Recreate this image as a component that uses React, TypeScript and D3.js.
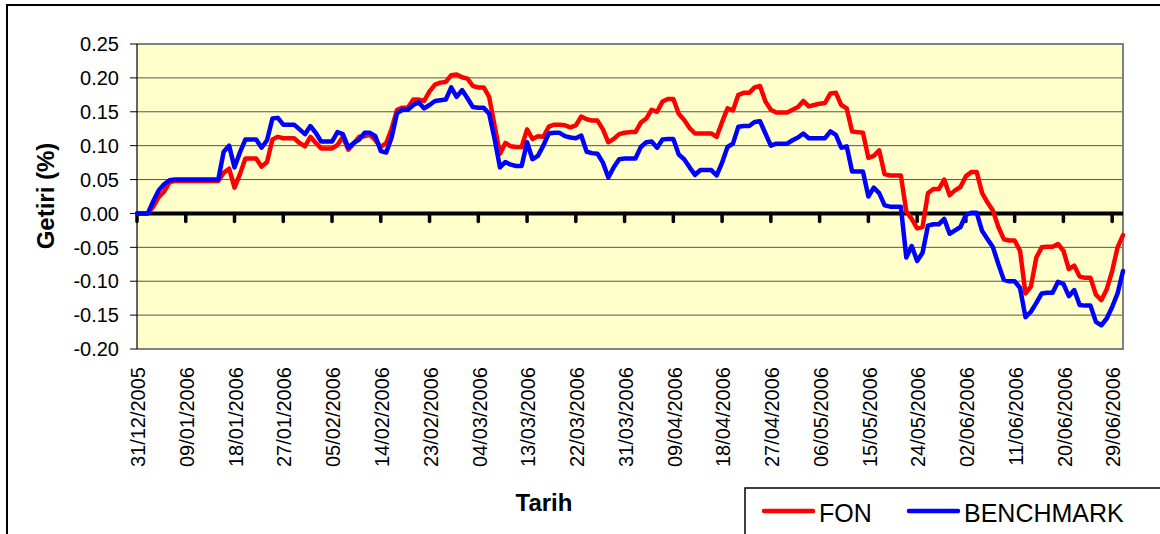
import React from "react";
import * as d3 from "d3";

// daily returns, 31/12/2005 .. 01/07/2006 (calendar days)
const startDay = new Date(2005, 11, 31);
const endDay = new Date(2006, 6, 2);

const fon = [
  0, 0, 0, 0.010, 0.024, 0.032, 0.046, 0.048, 0.048, 0.048,
  0.048, 0.048, 0.048, 0.048, 0.048, 0.048, 0.060, 0.066, 0.038, 0.058,
  0.081, 0.081, 0.081, 0.069, 0.076, 0.109, 0.113, 0.111, 0.111, 0.111,
  0.104, 0.099, 0.113, 0.104, 0.096, 0.096, 0.096, 0.101, 0.113, 0.094,
  0.103, 0.113, 0.114, 0.116, 0.108, 0.098, 0.104, 0.125, 0.153, 0.156,
  0.156, 0.168, 0.168, 0.166, 0.180, 0.190, 0.193, 0.194, 0.204, 0.205,
  0.201, 0.199, 0.188, 0.186, 0.186, 0.172, 0.130, 0.088, 0.104, 0.099,
  0.098, 0.098, 0.124, 0.110, 0.114, 0.113, 0.128, 0.131, 0.131, 0.130,
  0.127, 0.130, 0.143, 0.139, 0.137, 0.137, 0.124, 0.105, 0.110, 0.117,
  0.119, 0.120, 0.120, 0.134, 0.140, 0.153, 0.150, 0.165, 0.169, 0.169,
  0.147, 0.138, 0.126, 0.118, 0.118, 0.118, 0.118, 0.113, 0.135, 0.155,
  0.152, 0.175, 0.178, 0.178, 0.186, 0.188, 0.165, 0.153, 0.149, 0.149,
  0.149, 0.153, 0.157, 0.166, 0.158, 0.160, 0.162, 0.163, 0.177, 0.178,
  0.160, 0.155, 0.121, 0.120, 0.119, 0.082, 0.085, 0.093, 0.058, 0.056,
  0.056, 0.056, 0.003, -0.008, -0.022, -0.020, 0.030, 0.036, 0.036, 0.050,
  0.027, 0.034, 0.039, 0.055, 0.061, 0.061, 0.030, 0.016, 0.004, -0.020,
  -0.038, -0.040, -0.040, -0.055, -0.118, -0.108, -0.065, -0.050, -0.049, -0.049,
  -0.045, -0.055, -0.082, -0.077, -0.093, -0.095, -0.095, -0.120, -0.128, -0.112,
  -0.085, -0.050, -0.032
];

const benchmark = [
  0, 0, 0, 0.018, 0.034, 0.043, 0.049, 0.050, 0.050, 0.050,
  0.050, 0.050, 0.050, 0.050, 0.050, 0.050, 0.091, 0.100, 0.068, 0.090,
  0.109, 0.109, 0.109, 0.097, 0.108, 0.140, 0.141, 0.131, 0.131, 0.131,
  0.124, 0.117, 0.129, 0.119, 0.106, 0.106, 0.106, 0.120, 0.117, 0.097,
  0.104, 0.109, 0.119, 0.119, 0.114, 0.092, 0.090, 0.112, 0.148, 0.153,
  0.153, 0.160, 0.164, 0.155, 0.160, 0.166, 0.167, 0.168, 0.186, 0.172,
  0.182, 0.170, 0.157, 0.156, 0.156, 0.147, 0.110, 0.068, 0.076, 0.072,
  0.070, 0.070, 0.105, 0.080, 0.085, 0.100, 0.118, 0.119, 0.119, 0.114,
  0.112, 0.111, 0.115, 0.091, 0.089, 0.088, 0.075, 0.053, 0.068, 0.080,
  0.081, 0.081, 0.081, 0.098, 0.105, 0.106, 0.097, 0.109, 0.110, 0.110,
  0.087, 0.080, 0.068, 0.057, 0.064, 0.064, 0.064, 0.056, 0.075, 0.098,
  0.103, 0.128, 0.129, 0.129, 0.135, 0.136, 0.118, 0.100, 0.103, 0.103,
  0.103, 0.108, 0.112, 0.118, 0.111, 0.111, 0.111, 0.111, 0.121, 0.116,
  0.097, 0.099, 0.062, 0.062, 0.062, 0.025, 0.038, 0.030, 0.012, 0.010,
  0.010, 0.010, -0.065, -0.048, -0.070, -0.058, -0.018, -0.016, -0.016, -0.008,
  -0.030, -0.025, -0.020, -0.002, 0.001, 0.001, -0.026, -0.038, -0.050, -0.075,
  -0.098, -0.100, -0.100, -0.110, -0.153, -0.145, -0.132, -0.118, -0.117, -0.117,
  -0.101, -0.104, -0.122, -0.113, -0.135, -0.136, -0.136, -0.160, -0.165, -0.155,
  -0.138, -0.118, -0.085
];

const tickLabels = [
  "31/12/2005", "09/01/2006", "18/01/2006", "27/01/2006", "05/02/2006",
  "14/02/2006", "23/02/2006", "04/03/2006", "13/03/2006", "22/03/2006",
  "31/03/2006", "09/04/2006", "18/04/2006", "27/04/2006", "06/05/2006",
  "15/05/2006", "24/05/2006", "02/06/2006", "11/06/2006", "20/06/2006",
  "29/06/2006"
];

const yTicks = [0.25, 0.2, 0.15, 0.1, 0.05, 0, -0.05, -0.1, -0.15, -0.2];

const font = "'Liberation Sans', Arial, sans-serif";

export default function App() {
  const left = 137, right = 1123, top = 44, bottom = 349;

  const fmt = d3.timeFormat("%d/%m/%Y");
  const days = d3.timeDay.range(startDay, endDay).map(fmt);

  const x = d3.scalePoint<string>().domain(days).range([left, right]);
  const y = d3.scaleLinear().domain([-0.2, 0.25]).range([bottom, top]);

  const line = d3.line<number>()
    .x((d, i) => x(days[i]) as number)
    .y(d => y(d));

  const series = [
    { name: "FON", values: fon, color: "#ff0000" },
    { name: "BENCHMARK", values: benchmark, color: "#0000ff" }
  ];

  return (
    <svg width={1160} height={534}
         style={{ position: "absolute", left: 0, top: 0, background: "#fff" }}>
      {/* outer chart frame */}
      <rect x={7} y={5} width={1170} height={540} fill="#fff" stroke="#000" strokeWidth={2} />

      {/* plot area */}
      <rect x={left} y={top} width={right - left} height={bottom - top} fill="#ffffcc" />
      {yTicks.filter(t => t !== 0).map(t => (
        <line key={t} x1={left} x2={right} y1={y(t)} y2={y(t)} stroke="#555" strokeWidth={1} />
      ))}
      <path d={`M${left},${top}H${right}V${bottom}H${left}`} fill="none" stroke="#808080" strokeWidth={2} />

      {/* y axis */}
      <line x1={left} x2={left} y1={top} y2={bottom} stroke="#000" strokeWidth={1.2} />
      {yTicks.map(t => (
        <g key={t}>
          <line x1={left - 7} x2={left} y1={y(t)} y2={y(t)} stroke="#000" strokeWidth={1} />
          <text x={119} y={y(t)} dy="0.36em" textAnchor="end" fontSize={20} fontFamily={font} fill="#000">
            {t.toFixed(2)}
          </text>
        </g>
      ))}

      {/* zero line with category ticks */}
      <line x1={left} x2={right} y1={y(0)} y2={y(0)} stroke="#000" strokeWidth={4} />
      {tickLabels.map(l => (
        <line key={l} x1={x(l)} x2={x(l)} y1={y(0)} y2={y(0) + 8}
              stroke="#000" strokeWidth={3.5} strokeLinecap="round" />
      ))}

      {/* series */}
      {series.map(s => (
        <path key={s.name} d={line(s.values) as string} fill="none" stroke={s.color}
              strokeWidth={4.5} strokeLinejoin="round" strokeLinecap="round" />
      ))}

      {/* x tick labels */}
      {tickLabels.map(l => (
        <text key={l} transform={`translate(${(x(l) as number) + 1},367) rotate(-90)`} dy="0.36em"
              textAnchor="end" fontSize={20} fontFamily={font} fill="#000">
          {l}
        </text>
      ))}

      {/* axis titles */}
      <text x={544} y={511} textAnchor="middle" fontSize={24} fontWeight="bold" fontFamily={font}>Tarih</text>
      <text transform="translate(54,196) rotate(-90)" textAnchor="middle" fontSize={24}
            fontWeight="bold" fontFamily={font}>Getiri (%)</text>

      {/* legend */}
      <rect x={745} y={488} width={430} height={60} fill="#fff" stroke="#000" strokeWidth={1.5} />
      {series.map((s, i) => {
        const lx = i === 0 ? 764 : 909;
        return (
          <g key={s.name}>
            <line x1={lx} x2={lx + 49} y1={511} y2={511} stroke={s.color} strokeWidth={4.5} strokeLinecap="round" />
            <text x={lx + 55} y={522} fontSize={25} fontFamily={font} fill="#000">{s.name}</text>
          </g>
        );
      })}
    </svg>
  );
}
